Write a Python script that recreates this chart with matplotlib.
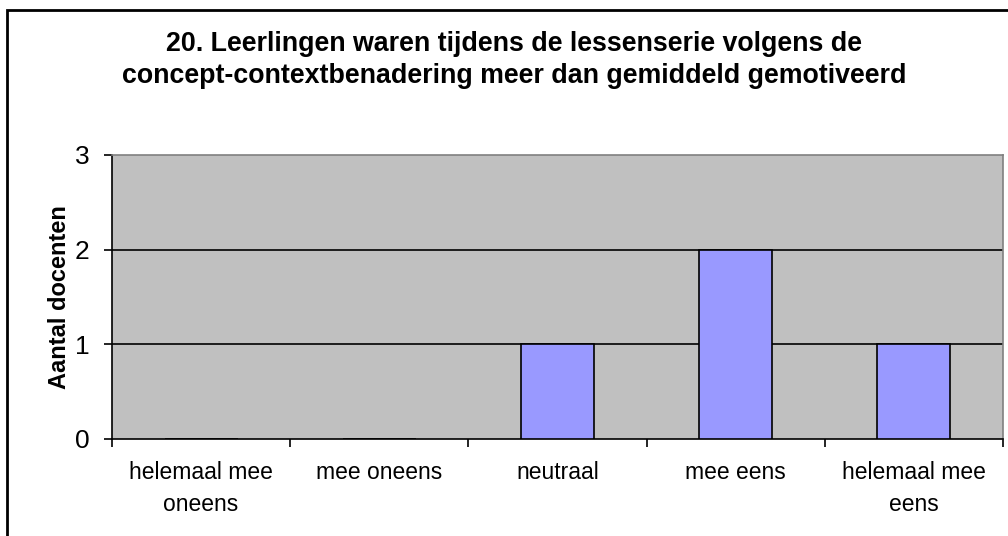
import numpy as np
import matplotlib.pyplot as plt
from matplotlib.patches import Rectangle

plt.rcParams['font.family'] = ['Liberation Sans', 'DejaVu Sans']

categories = ['helemaal mee\noneens', 'mee oneens', 'neutraal', 'mee eens', 'helemaal mee\neens']
counts = [0, 0, 1, 2, 1]
yticks = [0, 1, 2, 3]

fig = plt.figure(figsize=(10.08, 5.36), dpi=100)
W, H = 1008, 536

# outer chart border (runs off right/bottom edge like the reference)
fig.patches.append(Rectangle((7 / W, -0.05), 1.2, 1 - 10 / H + 0.05, transform=fig.transFigure,
                             fill=False, edgecolor='black', linewidth=2))

ax = fig.add_axes([112 / W, 1 - 439 / H, (1003 - 112) / W, (439 - 155) / H])
ax.set_facecolor('#C0C0C0')

x = np.arange(len(categories))
ax.bar(x, counts, width=0.41, color='#9999FF', edgecolor='black', linewidth=1.2, zorder=3)

ax.set_xlim(-0.5, len(categories) - 0.5)
ax.set_ylim(0, 3)
ax.set_yticks(yticks)
ax.set_yticklabels([str(t) for t in yticks], fontsize=19)
for t in yticks[1:3]:
    ax.axhline(t, color='black', linewidth=1.2, zorder=2)

# category labels between boundary ticks
ax.set_xticks(np.arange(-0.5, len(categories), 1.0))
ax.set_xticklabels([])
ax.set_xticks(x, minor=True)
ax.set_xticklabels(categories, minor=True, fontsize=16.5, linespacing=1.5)
ax.tick_params(axis='x', which='minor', length=0, pad=16)
ax.tick_params(axis='x', which='major', length=6, width=1.2, direction='out')
ax.tick_params(axis='y', length=6, width=1.2, direction='out', pad=10)

for side in ['left', 'bottom']:
    ax.spines[side].set_color('black')
    ax.spines[side].set_linewidth(1.2)
for side in ['top', 'right']:
    ax.spines[side].set_color('#808080')
    ax.spines[side].set_linewidth(1.2)

ax.set_ylabel('Aantal docenten', fontsize=17, fontweight='bold', labelpad=3)

fig.text(514 / W, 1 - 60 / H,
         '20. Leerlingen waren tijdens de lessenserie volgens de\n'
         'concept-contextbenadering meer dan gemiddeld gemotiveerd',
         ha='center', va='center', fontsize=19.3, fontweight='bold', linespacing=1.34)

fig.savefig('out.png', dpi=100)
